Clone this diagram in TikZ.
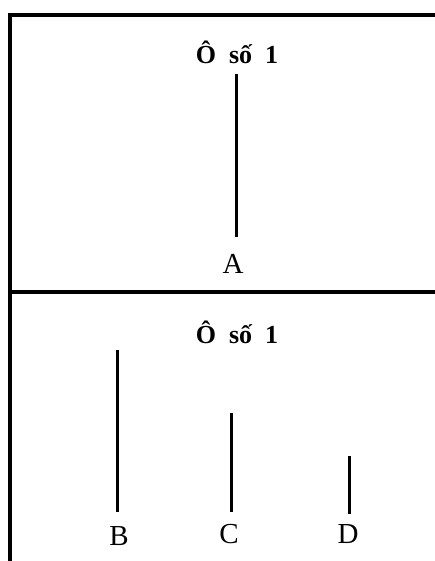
\documentclass[tikz,border=0pt]{standalone}
\usepackage{fontspec}
\setmainfont{Liberation Serif}
\begin{document}
\begin{tikzpicture}[x=1pt,y=-1pt,
  frame/.style={line width=3.2pt},
  stick/.style={line width=3pt},
  title/.style={font=\fontsize{26}{28}\selectfont\bfseries, inner sep=0pt},
  letter/.style={font=\fontsize{29}{30}\selectfont, inner sep=0pt}]
\useasboundingbox (0,0) rectangle (434,561);
\fill[white] (0,0) rectangle (434,561);
% frame
\coordinate (tl) at (10,15);
\coordinate (tr) at (440,15);
\coordinate (bl) at (10,570);
\coordinate (ml) at (10,292);
\coordinate (mr) at (440,292);
\draw[frame] (bl) -- (tl) -- (tr);
\draw[frame] (ml) -- (mr);
% titles
\node[title] (t1) at (237,52) {Ô\hspace{0.5em}số\hspace{0.5em}1};
\node[title] (t2) at (237,332) {Ô\hspace{0.5em}số\hspace{0.5em}1};
% labels
\node[letter] (A) at (233,264) {A};
\node[letter] (B) at (119,536) {B};
\node[letter] (C) at (229,534) {C};
\node[letter] (D) at (348,534) {D};
% sticks
\coordinate (a1) at (236,74);
\coordinate (a2) at (236,237);
\coordinate (b1) at (117,350);
\coordinate (b2) at (117,512);
\coordinate (c1) at (231,413);
\coordinate (c2) at (231,512);
\coordinate (d1) at (349,456);
\coordinate (d2) at (349,514);
\draw[stick] (a1) -- (a2);
\draw[stick] (b1) -- (b2);
\draw[stick] (c1) -- (c2);
\draw[stick] (d1) -- (d2);
\end{tikzpicture}
\end{document}
